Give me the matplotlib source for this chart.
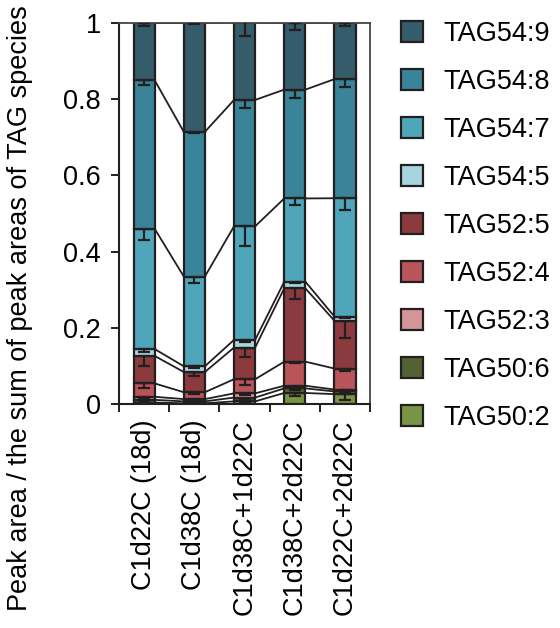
import numpy as np
import matplotlib
matplotlib.use('Agg')
import matplotlib.pyplot as plt
from matplotlib.patches import Patch

plt.rcParams['font.family'] = ['Liberation Sans', 'DejaVu Sans']
plt.rcParams['font.size'] = 19.5

# samples (x axis)
samples = ['C1d22C (18d)', 'C1d38C (18d)', 'C1d38C+1d22C',
           'C1d38C+2d22C', 'C1d22C+2d22C']

# TAG species, bottom of the stack first
species = ['TAG50:2', 'TAG50:6', 'TAG52:3', 'TAG52:4', 'TAG52:5',
           'TAG54:5', 'TAG54:7', 'TAG54:8', 'TAG54:9']
colors = ['#7a9445', '#536134', '#d49598', '#b9545a', '#8b3a3e',
          '#a6d5e0', '#4fa6bb', '#3a8499', '#355c6b']

# fraction of the summed peak area, one list per species
tag50_2 = [0.005, 0.003, 0.008, 0.030, 0.027]
tag50_6 = [0.007, 0.005, 0.010, 0.012, 0.007]
tag52_3 = [0.008, 0.006, 0.011, 0.007, 0.005]
tag52_4 = [0.035, 0.018, 0.037, 0.063, 0.055]
tag52_5 = [0.072, 0.053, 0.083, 0.192, 0.125]
tag54_5 = [0.018, 0.015, 0.020, 0.0175, 0.011]
tag54_7 = [0.315, 0.235, 0.2975, 0.218, 0.310]
tag54_8 = [0.389, 0.379, 0.331, 0.285, 0.312]
tag54_9 = [0.151, 0.286, 0.203, 0.175, 0.148]

# error (only the lower half is visible)
err50_2 = [0.002, 0.001, 0.003, 0.009, 0.016]
err50_6 = [0.003, 0.002, 0.004, 0.004, 0.003]
err52_3 = [0.003, 0.002, 0.004, 0.003, 0.002]
err52_4 = [0.011, 0.004, 0.015, 0.003, 0.006]
err52_5 = [0.026, 0.011, 0.025, 0.028, 0.046]
err54_5 = [0.008, 0.004, 0.005, 0.004, 0.003]
err54_7 = [0.029, 0.017, 0.052, 0.018, 0.031]
err54_8 = [0.012, 0.004, 0.020, 0.022, 0.021]
err54_9 = [0.010, 0.003, 0.035, 0.019, 0.009]

values = [tag50_2, tag50_6, tag52_3, tag52_4, tag52_5,
          tag54_5, tag54_7, tag54_8, tag54_9]
errors = [err50_2, err50_6, err52_3, err52_4, err52_5,
          err54_5, err54_7, err54_8, err54_9]

EDGE = '#231f20'
W = 0.42

fig = plt.figure(figsize=(5.6, 6.28), dpi=100)
ax = fig.add_axes([0.2125, 0.356, 0.4485, 0.608])

x = np.arange(len(samples)) + 0.5
bottom = np.zeros(len(samples))
tops = []
for vals, errs, col in zip(values, errors, colors):
    vals = np.array(vals)
    ax.bar(x, vals, W, bottom=bottom, color=col, edgecolor=EDGE,
           linewidth=1.6, zorder=2)
    top = bottom + vals
    ax.errorbar(x, top, yerr=[errs, np.zeros(len(errs))], fmt='none',
                ecolor=EDGE, elinewidth=1.6, capsize=4, capthick=1.6,
                zorder=3)
    tops.append(top)
    bottom = top

# lines joining the segment tops of neighbouring bars
for top in tops:
    for i in range(len(samples) - 1):
        ax.plot([x[i] + W / 2, x[i + 1] - W / 2], [top[i], top[i + 1]],
                color=EDGE, lw=1.3, zorder=1.5)

ax.set_xlim(0, len(samples))
ax.set_ylim(0, 1)
ax.set_yticks([0, 0.2, 0.4, 0.6, 0.8, 1.0])
ax.set_yticklabels(['0', '0.2', '0.4', '0.6', '0.8', '1'])
ax.set_xticks(np.arange(len(samples) + 1))
ax.set_xticklabels([])
ax.set_xticks(x, minor=True)
ax.set_xticklabels(samples, minor=True, rotation=90, va='top')
ax.tick_params(axis='x', which='minor', length=0, pad=11)
ax.tick_params(axis='both', which='major', length=6, width=1.4,
               color=EDGE, pad=7)

for side in ['left', 'bottom']:
    ax.spines[side].set_linewidth(1.5)
    ax.spines[side].set_color(EDGE)
for side in ['top', 'right']:
    ax.spines[side].set_linewidth(1.3)
    ax.spines[side].set_color('#444444')

fig.text(0.036, 0.51, 'Peak area / the sum of peak areas of TAG species',
         rotation=90, ha='center', va='center')

handles = [Patch(facecolor=c, edgecolor=EDGE, linewidth=1.6)
           for c in colors[::-1]]
fig.legend(handles, species[::-1], loc='upper left',
           bbox_to_anchor=(0.692, 0.988), frameon=False, borderpad=0,
           handlelength=0.8, handleheight=0.8, handletextpad=0.75,
           labelspacing=0.81)

fig.savefig('out.png', dpi=100)
